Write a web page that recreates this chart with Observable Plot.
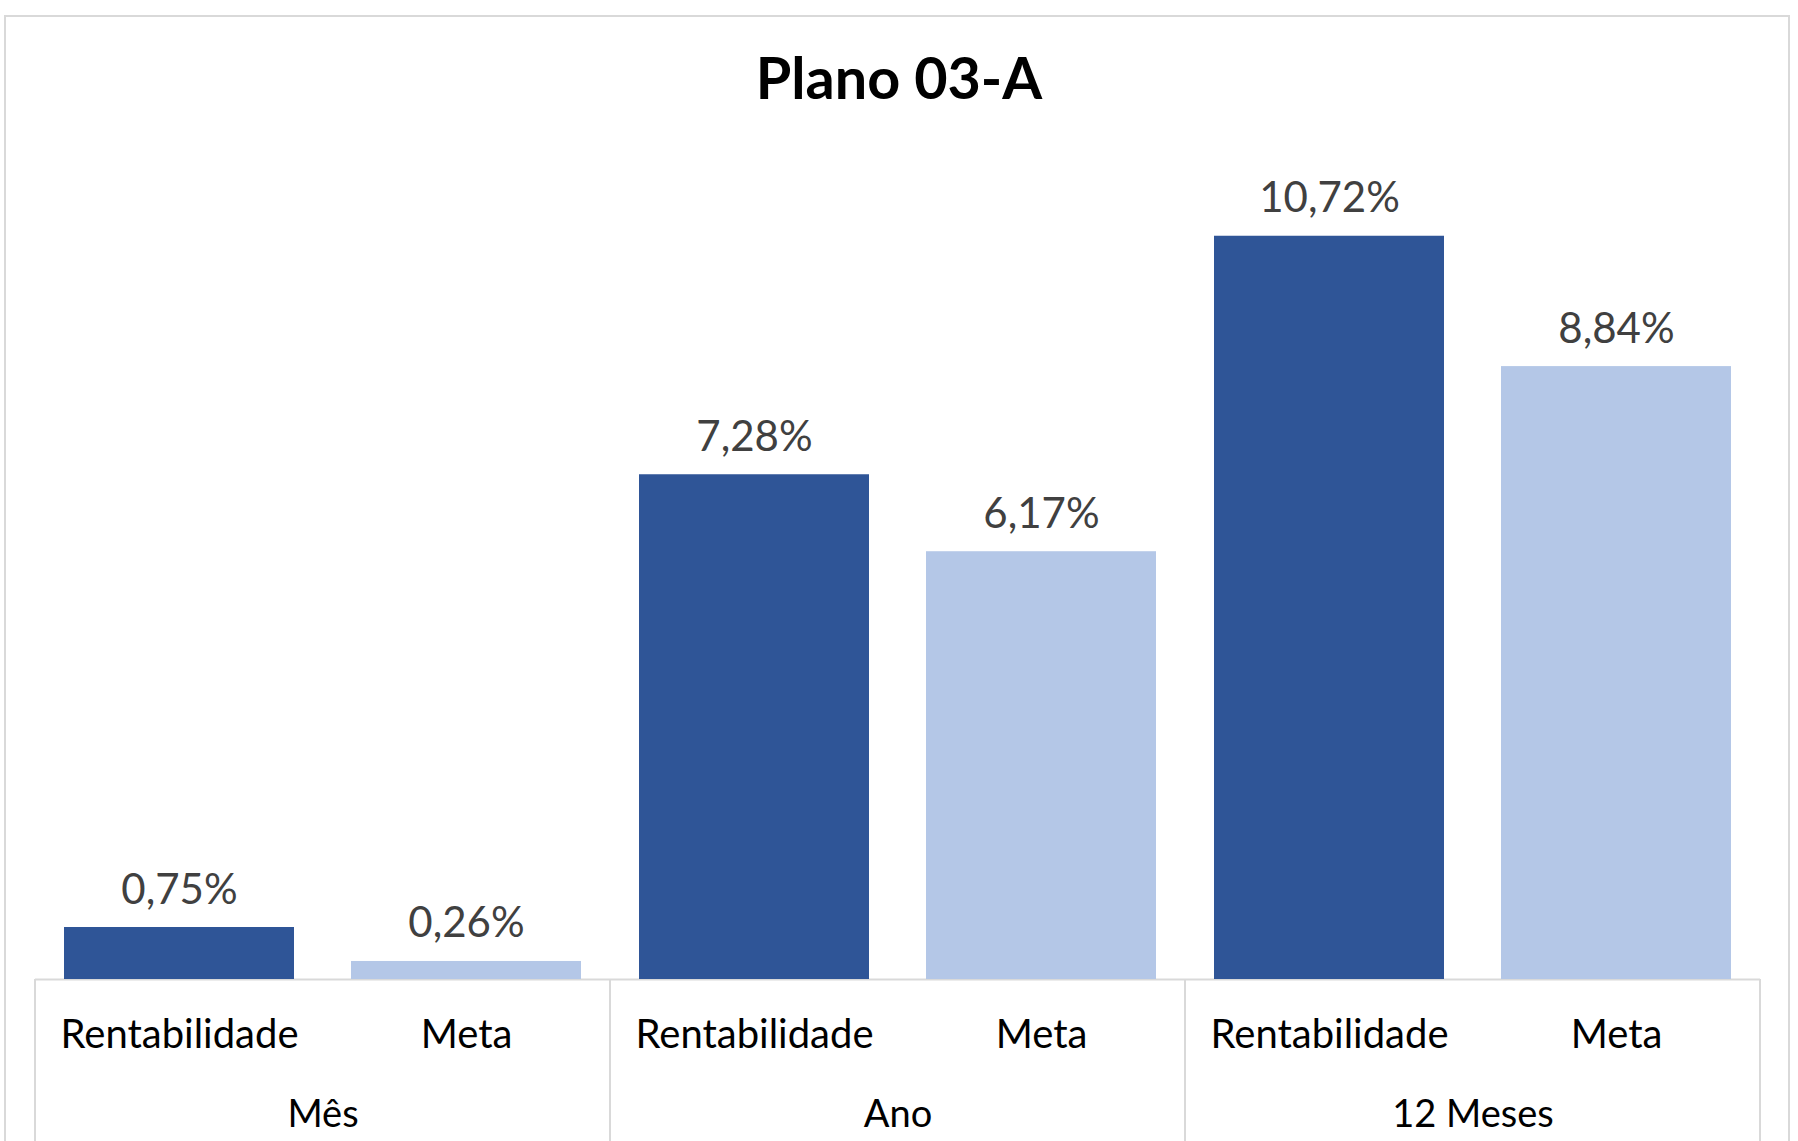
<!DOCTYPE html>
<html>
<head>
<meta charset="utf-8">
<script src="https://cdn.jsdelivr.net/npm/d3@7"></script>
<script src="https://cdn.jsdelivr.net/npm/@observablehq/plot@0.6"></script>
<style>
  html, body { margin: 0; padding: 0; background: #fff; }
  body { width: 1798px; height: 1141px; position: relative; overflow: hidden; font-family: Lato, sans-serif; }
  #frame { position: absolute; left: 4px; top: 15px; width: 1786px; height: 1250px; border: 2px solid #d9d9d9; box-sizing: border-box; }
  #title { position: absolute; left: 0; top: 48px; width: 1798px; text-align: center; font-weight: 700; font-size: 57.5px; line-height: 57px; color: #000; }
  #chart { position: absolute; left: 0; top: 130px; }
</style>
</head>
<body>
<div id="frame"></div>
<div id="title">Plano 03-A</div>
<div id="chart"></div>
<script>
const groups = ["Mês", "Ano", "12 Meses"];
const series = ["Rentabilidade", "Meta"];
const rentabilidade = [0.75, 7.28, 10.72];
const meta = [0.26, 6.17, 8.84];
const colors = ["#2f5597", "#b4c7e7"];

const data = groups.flatMap((g, i) => [
  {group: g, series: series[0], value: rentabilidade[i]},
  {group: g, series: series[1], value: meta[i]}
]);
const fmt = v => v.toFixed(2).replace(".", ",") + "%";

const chart = Plot.plot({
  width: 1798,
  height: 1011,
  marginLeft: 34,
  marginRight: 38,
  marginTop: 17,
  marginBottom: 162,
  style: {fontFamily: "Lato, sans-serif", background: "transparent"},
  fx: {domain: groups, padding: 0, label: null},
  x: {domain: series, paddingInner: 0.2, paddingOuter: 0.1, label: null},
  y: {domain: [0, 12], axis: null},
  color: {domain: series, range: colors},
  marks: [
    Plot.ruleY([0], {stroke: "#d9d9d9", strokeWidth: 2}),
    Plot.barY(data, {fx: "group", x: "series", y: "value", fill: "series"}),
    Plot.text(data, {fx: "group", x: "series", y: "value", text: d => fmt(d.value),
      lineAnchor: "bottom", dy: -24, fontSize: 42, fill: "#404040"}),
    Plot.axisX({anchor: "bottom", tickSize: 0, tickPadding: 40, fontSize: 40, color: "#000", label: null}),
    Plot.axisFx({anchor: "bottom", tickSize: 0, tickPadding: 121, fontSize: 38, color: "#000", label: null})
  ]
});
document.getElementById("chart").appendChild(chart);

// group separators below the baseline, positioned from Plot's own scales
const fx = chart.scale("fx");
const y = chart.scale("y");
const y0 = y.apply(0);
const edges = [];
groups.forEach((g, i) => {
  if (i === 0) edges.push(fx.apply(g));
  edges.push(fx.apply(g) + fx.bandwidth);
});
d3.select(chart).append("g")
  .selectAll("line").data(edges).join("line")
  .attr("x1", d => d).attr("x2", d => d)
  .attr("y1", y0).attr("y2", 1011)
  .attr("stroke", "#d9d9d9").attr("stroke-width", 2);
</script>
</body>
</html>
